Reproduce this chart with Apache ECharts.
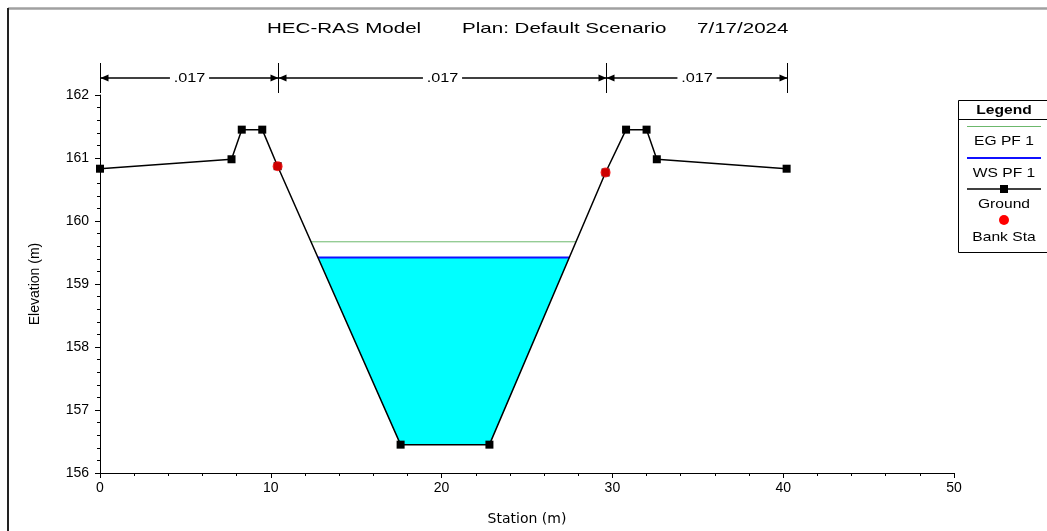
<!DOCTYPE html>
<html>
<head>
<meta charset="utf-8">
<script src="https://cdn.jsdelivr.net/npm/echarts@6/dist/echarts.min.js"></script>
<style>
  html, body { margin: 0; padding: 0; background: #ffffff; }
  #chart { width: 1047px; height: 531px; }
</style>
</head>
<body>
<div id="chart"></div>
<script>
// Cross-section ground geometry (station m, elevation m)
const groundStation = [0, 7.7, 8.3, 9.5, 10.4, 17.6, 22.8, 29.6, 30.8, 32.0, 32.6, 40.2];
const groundElev    = [160.83, 160.98, 161.45, 161.45, 160.87, 156.45, 156.45, 160.77, 161.45, 161.45, 160.98, 160.83];

// Bank stations
const bankStation = [10.4, 29.6];
const bankElev    = [160.87, 160.77];

// Profile PF 1 results
const wsElev = 159.42;   // water surface
const egElev = 159.67;   // energy grade

// Manning's n regions (break stations and values)
const nBreaks = [0, 10.4, 29.6, 40.2];
const nValues = ['.017', '.017', '.017'];

// Axis ranges
const xMin = 0, xMax = 50, xStep = 10;
const yMin = 156, yMax = 162, yStep = 1;

const FONT = '"Liberation Sans", Arial, sans-serif';

// Find where a horizontal level meets the ground on each side of the thalweg
function waterEdges(level) {
  let iMin = 0;
  groundElev.forEach((z, i) => { if (z < groundElev[iMin]) iMin = i; });
  let l = iMin;
  while (l > 0 && groundElev[l - 1] < level) l--;
  let r = iMin;
  while (r < groundElev.length - 1 && groundElev[r + 1] < level) r++;
  const interp = (a, b) => {
    const t = (level - groundElev[a]) / (groundElev[b] - groundElev[a]);
    return groundStation[a] + t * (groundStation[b] - groundStation[a]);
  };
  return { left: interp(l - 1, l), right: interp(r + 1, r), l, r };
}

const ws = waterEdges(wsElev);
const eg = waterEdges(egElev);

// Wetted polygon below the water surface
const waterPoly = [[ws.left, wsElev]];
for (let i = ws.l; i <= ws.r; i++) waterPoly.push([groundStation[i], groundElev[i]]);
waterPoly.push([ws.right, wsElev]);

const groundData = groundStation.map((x, i) => [x, groundElev[i]]);
const bankData = bankStation.map((x, i) => [x, bankElev[i]]);
const nData = nValues.map((v, i) => [nBreaks[i], nBreaks[i + 1], yMax]);

const chart = echarts.init(document.getElementById('chart'), null, { renderer: 'canvas' });

const axisCommon = {
  axisLine: { show: true, lineStyle: { color: '#000', width: 1 } },
  axisTick: { show: true, inside: false, length: 5, lineStyle: { color: '#000' } },
  minorTick: { show: true, splitNumber: 5, length: 3, lineStyle: { color: '#000' } },
  splitLine: { show: false },
  minorSplitLine: { show: false },
  axisLabel: { color: '#000', fontSize: 14, fontFamily: FONT },
  nameTextStyle: { color: '#000', fontSize: 14, fontFamily: FONT }
};

function legendText(txt, y, bold) {
  return {
    type: 'text', x: 1004, y: y, scaleX: 1.2,
    style: {
      text: txt, x: 0, y: 0,
      font: (bold ? 'bold ' : '') + '13px ' + FONT,
      fill: '#000', align: 'center', verticalAlign: 'middle',
      textAlign: 'center', textVerticalAlign: 'middle'
    }
  };
}
function titleText(txt, x) {
  return {
    type: 'text', x: x, y: 29, scaleX: 1.37,
    style: {
      text: txt, x: 0, y: 0, font: '15px ' + FONT, fill: '#000',
      align: 'left', verticalAlign: 'middle',
      textAlign: 'left', textVerticalAlign: 'middle'
    }
  };
}

const option = {
  animation: false,
  backgroundColor: '#ffffff',
  grid: { left: 100, right: 93, top: 95, bottom: 58, containLabel: false, outerBoundsMode: 'none' },
  xAxis: Object.assign({}, axisCommon, {
    type: 'value', min: xMin, max: xMax, interval: xStep,
    name: 'Station (m)', nameLocation: 'middle', nameGap: 39,
    nameTextStyle: { color: '#000', fontSize: 14, fontFamily: '"DejaVu Sans", sans-serif' },
    axisLabel: Object.assign({}, axisCommon.axisLabel, { margin: 8 })
  }),
  yAxis: Object.assign({}, axisCommon, {
    type: 'value', min: yMin, max: yMax, interval: yStep,
    name: 'Elevation (m)', nameLocation: 'middle', nameGap: 58, nameRotate: 90,
    axisLabel: Object.assign({}, axisCommon.axisLabel, { margin: 11 })
  }),
  graphic: [
    // outer frame
    { type: 'line', shape: { x1: 8, y1: 8.5, x2: 1047, y2: 8.5 }, style: { stroke: '#a0a0a0', lineWidth: 2.5 } },
    { type: 'line', shape: { x1: 8, y1: 8, x2: 8, y2: 531 }, style: { stroke: '#222', lineWidth: 2 } },
    // title
    titleText('HEC-RAS Model', 267),
    titleText('Plan: Default Scenario', 462),
    titleText('7/17/2024', 697),
    // legend box
    { type: 'rect', shape: { x: 958.5, y: 100.5, width: 100, height: 152 }, style: { fill: '#fff', stroke: '#000', lineWidth: 1 } },
    { type: 'line', shape: { x1: 958, y1: 119.5, x2: 1047, y2: 119.5 }, style: { stroke: '#000', lineWidth: 1 } },
    legendText('Legend', 110, true),
    { type: 'line', shape: { x1: 967, y1: 126.5, x2: 1041, y2: 126.5 }, style: { stroke: '#6cb86c', lineWidth: 1 } },
    legendText('EG PF 1', 141),
    { type: 'line', shape: { x1: 967, y1: 158, x2: 1041, y2: 158 }, style: { stroke: '#1010ff', lineWidth: 2 } },
    legendText('WS PF 1', 173),
    { type: 'line', shape: { x1: 967, y1: 189, x2: 1041, y2: 189 }, style: { stroke: '#000', lineWidth: 1.5 } },
    { type: 'rect', shape: { x: 1000, y: 185, width: 8, height: 8 }, style: { fill: '#000' } },
    legendText('Ground', 204),
    { type: 'circle', shape: { cx: 1004, cy: 220, r: 5 }, style: { fill: '#ff0000' } },
    legendText('Bank Sta', 237)
  ],
  series: [
    {
      name: 'Water',
      type: 'custom',
      coordinateSystem: 'cartesian2d',
      data: [[ws.left, wsElev]],
      encode: { x: 0, y: 1 },
      z: 1,
      silent: true,
      renderItem: function (params, api) {
        return {
          type: 'polygon',
          shape: { points: waterPoly.map(p => api.coord(p)) },
          style: { fill: '#00ffff', stroke: null }
        };
      }
    },
    {
      name: 'EG PF 1',
      type: 'line',
      data: [[eg.left, egElev], [eg.right, egElev]],
      symbol: 'none',
      lineStyle: { color: '#6cb86c', width: 1 },
      z: 2
    },
    {
      name: 'WS PF 1',
      type: 'line',
      data: [[ws.left, wsElev], [ws.right, wsElev]],
      symbol: 'none',
      lineStyle: { color: '#1010ff', width: 2 },
      z: 3
    },
    {
      name: 'Ground',
      type: 'line',
      data: groundData,
      symbol: 'rect',
      symbolSize: 8,
      showAllSymbol: true,
      itemStyle: { color: '#000' },
      lineStyle: { color: '#000', width: 1.5 },
      z: 4
    },
    {
      name: 'Bank Sta',
      type: 'scatter',
      data: bankData,
      symbol: 'circle',
      symbolSize: 10,
      itemStyle: { color: '#ff0000' },
      z: 5
    },
    {
      name: "Manning's n",
      type: 'custom',
      coordinateSystem: 'cartesian2d',
      data: nData,
      encode: { x: [0, 1], y: 2 },
      clip: false,
      z: 6,
      silent: true,
      renderItem: function (params, api) {
        const a = api.coord([api.value(0), api.value(2)]);
        const b = api.coord([api.value(1), api.value(2)]);
        const top = a[1] - 32, bot = a[1] - 2, ay = a[1] - 17;
        const xa = Math.round(a[0]) + 0.5, xb = Math.round(b[0]) + 0.5;
        const head = 8, hw = 3.5;
        return {
          type: 'group',
          children: [
            { type: 'line', shape: { x1: xa, y1: top, x2: xa, y2: bot }, style: { stroke: '#000', lineWidth: 1 } },
            { type: 'line', shape: { x1: xb, y1: top, x2: xb, y2: bot }, style: { stroke: '#000', lineWidth: 1 } },
            { type: 'line', shape: { x1: xa, y1: ay, x2: xb, y2: ay }, style: { stroke: '#000', lineWidth: 1.5 } },
            { type: 'polygon', shape: { points: [[xa, ay], [xa + head, ay - hw], [xa + head, ay + hw]] }, style: { fill: '#000' } },
            { type: 'polygon', shape: { points: [[xb, ay], [xb - head, ay - hw], [xb - head, ay + hw]] }, style: { fill: '#000' } },
            {
              type: 'text', x: (xa + xb) / 2, y: ay, scaleX: 1.25,
              style: {
                text: nValues[params.dataIndex], x: 0, y: 0,
                font: '13px ' + FONT, fill: '#000',
                align: 'center', verticalAlign: 'middle',
                textAlign: 'center', textVerticalAlign: 'middle',
                backgroundColor: '#fff', padding: [0, 3]
              }
            }
          ]
        };
      }
    }
  ]
};

chart.setOption(option);
</script>
</body>
</html>
